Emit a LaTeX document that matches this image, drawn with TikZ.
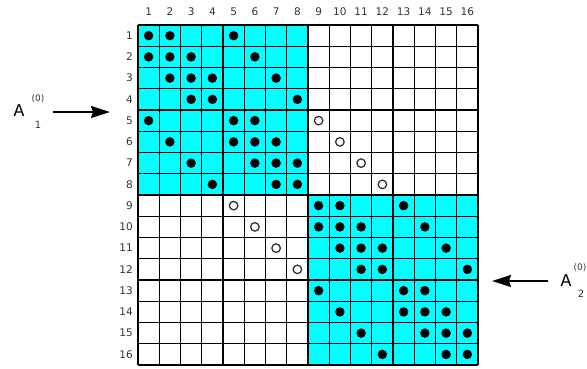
\documentclass[tikz,border=0pt]{standalone}
\usepackage{fontspec}
\setmainfont{DejaVu Sans}
\newfontfamily\monofont{Liberation Mono}
\usetikzlibrary{arrows.meta}
\definecolor{cellcyan}{RGB}{0,255,255}
\tikzset{
  lbl/.style={font=\fontsize{10.5}{12}\selectfont, text=black!80, inner sep=0pt},
  fulldot/.style={circle, fill=black, minimum size=9.5pt, inner sep=0pt},
  opendot/.style={circle, draw=black!80, line width=1.3pt, minimum size=8.5pt, inner sep=0pt},
  gridline/.style={line width=1.4pt, black},
  bigarrow/.style={line width=1.6pt, -{Stealth[length=19pt,width=12pt,inset=2pt]}},
  amain/.style={font=\monofont\fontsize{18}{18}\selectfont, inner sep=0pt},
  asup/.style={font=\fontsize{9}{9}\selectfont, text=black!80, inner sep=0pt},
  asub/.style={font=\fontsize{10}{10}\selectfont, text=black!80, inner sep=0pt},
}
\begin{document}
\begin{tikzpicture}[x=1pt,y=-1pt]
\useasboundingbox (0,0) rectangle (587,368);
\def\cs{21.25}
% cyan blocks
\fill[cellcyan] (138,25) rectangle (308,195);
\fill[cellcyan] (308,195) rectangle (478,365);
% grid
\foreach \k in {0,...,16}{
  \draw[gridline] ({138+\cs*\k},25) -- ({138+\cs*\k},365);
  \draw[gridline] (138,{25+\cs*\k}) -- (478,{25+\cs*\k});
}
% labels
\foreach \i in {1,...,16}{
  \node[lbl] (col\i) at ({138+\cs*(\i-0.5)},12) {\i};
  \node[lbl, anchor=east] (row\i) at (133,{25+\cs*(\i-0.5)}) {\i};
}
% filled dots
\foreach \r/\clist in {1/{1,2,5}, 2/{1,2,3,6}, 3/{2,3,4,7}, 4/{3,4,8}, 5/{1,5,6}, 6/{2,5,6,7}, 7/{3,6,7,8}, 8/{4,7,8},
  9/{9,10,13}, 10/{9,10,11,14}, 11/{10,11,12,15}, 12/{11,12,16}, 13/{9,13,14}, 14/{10,13,14,15}, 15/{11,14,15,16}, 16/{12,15,16}}{
  \foreach \c in \clist {
    \node[fulldot] (d-\r-\c) at ({138+\cs*(\c-0.5)},{25+\cs*(\r-0.5)}) {};
  }
}
% open circles
\foreach \r/\c in {5/9, 6/10, 7/11, 8/12, 9/5, 10/6, 11/7, 12/8}{
  \node[opendot] (o-\r-\c) at ({138+\cs*(\c-0.5)},{25+\cs*(\r-0.5)}) {};
}
% A1 label
\node[amain] (a1) at (19,111) {A};
\node[asup] (a1sup) at (38,99) {(0)};
\node[asub] (a1sub) at (38,125) {1};
\coordinate (a1s) at (53,112);
\coordinate (a1e) at (110,112);
\draw[bigarrow] (a1s) -- (a1e);
% A2 label
\node[amain] (a2) at (566,281) {A};
\node[asup, anchor=east] (a2sup) at (586.5,268) {(0)};
\node[asub] (a2sub) at (581,294) {2};
\coordinate (a2s) at (548,281);
\coordinate (a2e) at (492,281);
\draw[bigarrow] (a2s) -- (a2e);
\end{tikzpicture}
\end{document}
